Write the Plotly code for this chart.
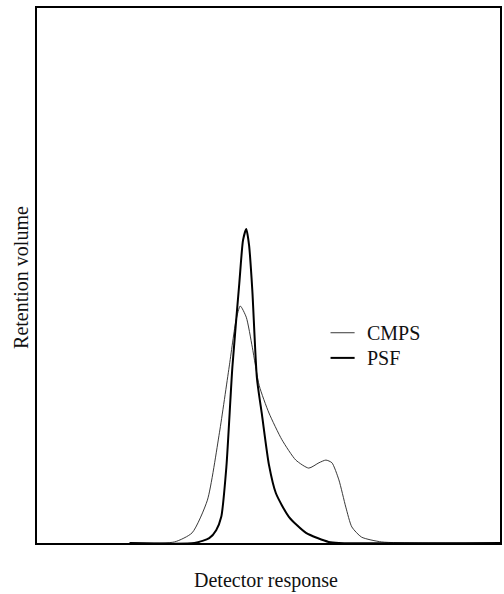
import plotly.graph_objects as go

# Data in arbitrary units: x 0..100 across the frame, y 0..100 from baseline to top
cmps_x = [20.0, 29.7, 33.5, 36.8, 39.4, 41.5, 43.0, 43.9, 45.2, 46.5, 48.0, 50.1, 52.9, 55.9,
          58.7, 60.9, 62.4, 63.7, 65.2, 66.7, 68.0, 70.1, 74.4, 82.4, 100.0]
cmps_y = [0.0, 0.2, 1.9, 8.0, 20.6, 32.9, 41.7, 44.3, 42.2, 36.6, 29.4, 24.3, 19.3, 15.5,
          14.0, 15.0, 15.5, 15.0, 11.8, 6.7, 3.0, 1.1, 0.2, 0.0, 0.0]

psf_x = [20.0, 34.0, 37.2, 38.7, 39.8, 40.9, 42.2, 43.7, 44.5, 45.2, 45.8, 46.5, 47.5, 48.6,
         50.1, 51.6, 54.4, 58.1, 63.0, 65.2, 100.0]
psf_y = [0.0, 0.0, 0.9, 2.4, 4.9, 14.2, 32.9, 48.6, 56.6, 58.7, 55.7, 47.3, 30.8, 23.9,
         14.6, 9.3, 4.9, 1.9, 0.2, 0.0, 0.0]

series_names = ["CMPS", "PSF"]
x_title = "Detector response"
y_title = "Retention volume"

FONT = "Liberation Serif, Times New Roman, serif"

fig = go.Figure()
fig.add_trace(go.Scatter(x=cmps_x, y=cmps_y, mode="lines", name=series_names[0],
                         line=dict(color="#222222", width=0.9, shape="spline", smoothing=0.6)))
fig.add_trace(go.Scatter(x=psf_x, y=psf_y, mode="lines", name=series_names[1],
                         line=dict(color="#000000", width=2.0, shape="spline", smoothing=0.6)))

# legend drawn as short line samples + labels
leg = [(series_names[0], 0.9, "#222222", 0.393), (series_names[1], 2.0, "#000000", 0.346)]
for name, w, c, yy in leg:
    fig.add_shape(type="line", xref="paper", yref="paper", x0=0.634, x1=0.686, y0=yy, y1=yy,
                  line=dict(color=c, width=w))
    fig.add_annotation(text=name, xref="paper", yref="paper", x=0.708, y=yy, xanchor="left",
                       yanchor="middle", showarrow=False, font=dict(family=FONT, size=20, color="#111"))

fig.add_annotation(text=x_title, xref="paper", yref="paper", x=0.495, y=-0.071, xanchor="center",
                   yanchor="middle", showarrow=False, font=dict(family=FONT, size=20, color="#111"))
fig.add_annotation(text=y_title, xref="paper", yref="paper", x=-0.035, y=0.497, xanchor="center",
                   yanchor="middle", textangle=-90, showarrow=False,
                   font=dict(family=FONT, size=20, color="#111"))

axis_common = dict(showgrid=False, zeroline=False, showticklabels=False, ticks="",
                   showline=True, linecolor="black", linewidth=1.6, mirror=True)
fig.update_xaxes(range=[0, 100], **axis_common)
fig.update_yaxes(range=[0, 100], **axis_common)

fig.update_layout(width=504, height=594, margin=dict(l=37, r=2, t=8, b=51),
                  paper_bgcolor="white", plot_bgcolor="white", showlegend=False)

fig.write_html("out.html")
